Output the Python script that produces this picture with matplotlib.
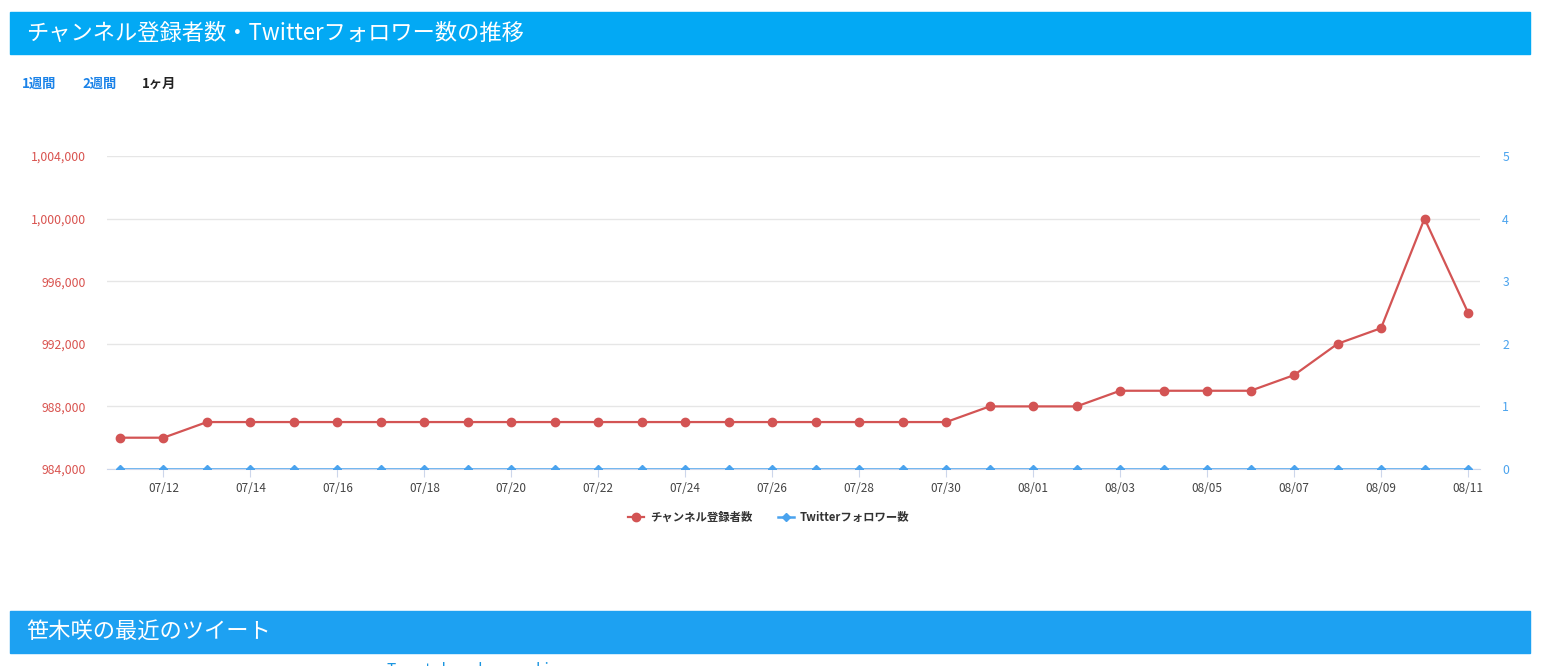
import matplotlib
matplotlib.use("Agg")
import matplotlib.pyplot as plt
from matplotlib.patches import Rectangle
from matplotlib.ticker import FuncFormatter

plt.rcParams['font.family'] = ['Noto Sans CJK JP', 'DejaVu Sans']

# data
dates = ['07/11', '07/12', '07/13', '07/14', '07/15', '07/16', '07/17', '07/18',
         '07/19', '07/20', '07/21', '07/22', '07/23', '07/24', '07/25', '07/26',
         '07/27', '07/28', '07/29', '07/30', '07/31', '08/01', '08/02', '08/03',
         '08/04', '08/05', '08/06', '08/07', '08/08', '08/09', '08/10', '08/11']
subscribers = [986000, 986000] + [987000] * 18 + [988000] * 3 + [989000] * 4 + \
    [990000, 992000, 993000, 1000000, 994000]
followers = [0] * 32
left_ticks = [984000, 988000, 992000, 996000, 1000000, 1004000]
right_ticks = [0, 1, 2, 3, 4, 5]

RED = '#d35454'
BLUE = '#4aa3ee'
W, H = 1545, 666

fig = plt.figure(figsize=(W / 100, H / 100), dpi=100)


def px(x0, y0, x1, y1):
    """Convert pixel box (top-left origin) to figure fractions."""
    return [x0 / W, 1 - y1 / H, (x1 - x0) / W, (y1 - y0) / H]


# header bars
fig.patches.append(Rectangle((10 / W, 1 - 54 / H), 1520 / W, 42 / H,
                             transform=fig.transFigure, color='#03a9f4'))
fig.text(26 / W, 1 - 33 / H, 'チャンネル登録者数・Twitterフォロワー数の推移',
         color='white', fontsize=16, va='center')
fig.patches.append(Rectangle((10 / W, 1 - 653 / H), 1520 / W, 42 / H,
                             transform=fig.transFigure, color='#1da1f2'))
fig.text(26 / W, 1 - 632 / H, '笹木咲の最近のツイート',
         color='white', fontsize=16, va='center')
# partly hidden link below the second header, cut by the page edge as in the source
fig.text(387 / W, 1 - 679 / H, 'Tweets by saku_sasaki', color='#1b95e0',
         fontsize=11, va='bottom')

# period tabs
fig.text(22 / W, 1 - 84 / H, '1週間', color='#1a82e8', fontsize=9.5,
         fontweight='bold', va='center')
fig.text(82 / W, 1 - 84 / H, '2週間', color='#1a82e8', fontsize=9.5,
         fontweight='bold', va='center')
fig.text(142 / W, 1 - 84 / H, '1ヶ月', color='#222222', fontsize=9.5,
         fontweight='bold', va='center')

ax = fig.add_axes(px(107, 156, 1480, 469))
ax2 = ax.twinx()

x = list(range(len(dates)))
ax.plot(x, subscribers, color=RED, lw=1.6, marker='o', ms=6, zorder=3,
        label='チャンネル登録者数')
ax2.plot(x, followers, color=BLUE, lw=1.8, marker='D', ms=4.5, zorder=3,
         label='Twitterフォロワー数')

sp = (1468 - 120) / 31
ax.set_xlim(-(120 - 107) / sp, 31 + (1480 - 1468) / sp)
ax.set_ylim(984000, 1004000)
ax2.set_ylim(0, 5)
ax.set_yticks(left_ticks)
ax2.set_yticks(right_ticks)
ax.yaxis.set_major_formatter(FuncFormatter(lambda v, p: f'{int(v):,}'))

ax.set_xticks(x[1::2])
ax.set_xticklabels(dates[1::2])
ax.tick_params(axis='x', length=6, color='#ccd6eb', colors='#444444',
               labelsize=8.5, pad=3)
ax.tick_params(axis='y', length=0, labelsize=8.8, labelcolor='#d9534f', pad=15)
ax2.tick_params(axis='y', length=0, labelsize=8.8, labelcolor=BLUE, pad=16)
ax.grid(axis='y', color='#e6e6e6', lw=1)

for a in (ax, ax2):
    for s in a.spines.values():
        s.set_visible(False)
ax.spines['bottom'].set_visible(True)
ax.spines['bottom'].set_color('#ccd6eb')

h1, l1 = ax.get_legend_handles_labels()
h2, l2 = ax2.get_legend_handles_labels()
leg = fig.legend(h1 + h2, l1 + l2, loc='center', bbox_to_anchor=(769 / W, 1 - 517 / H),
                 ncol=2, frameon=False, fontsize=8.2, handlelength=1.4,
                 columnspacing=2.3, handletextpad=0.5)
for t in leg.get_texts():
    t.set_fontweight('bold')
    t.set_color('#333333')

fig.savefig('out.png', dpi=100)
